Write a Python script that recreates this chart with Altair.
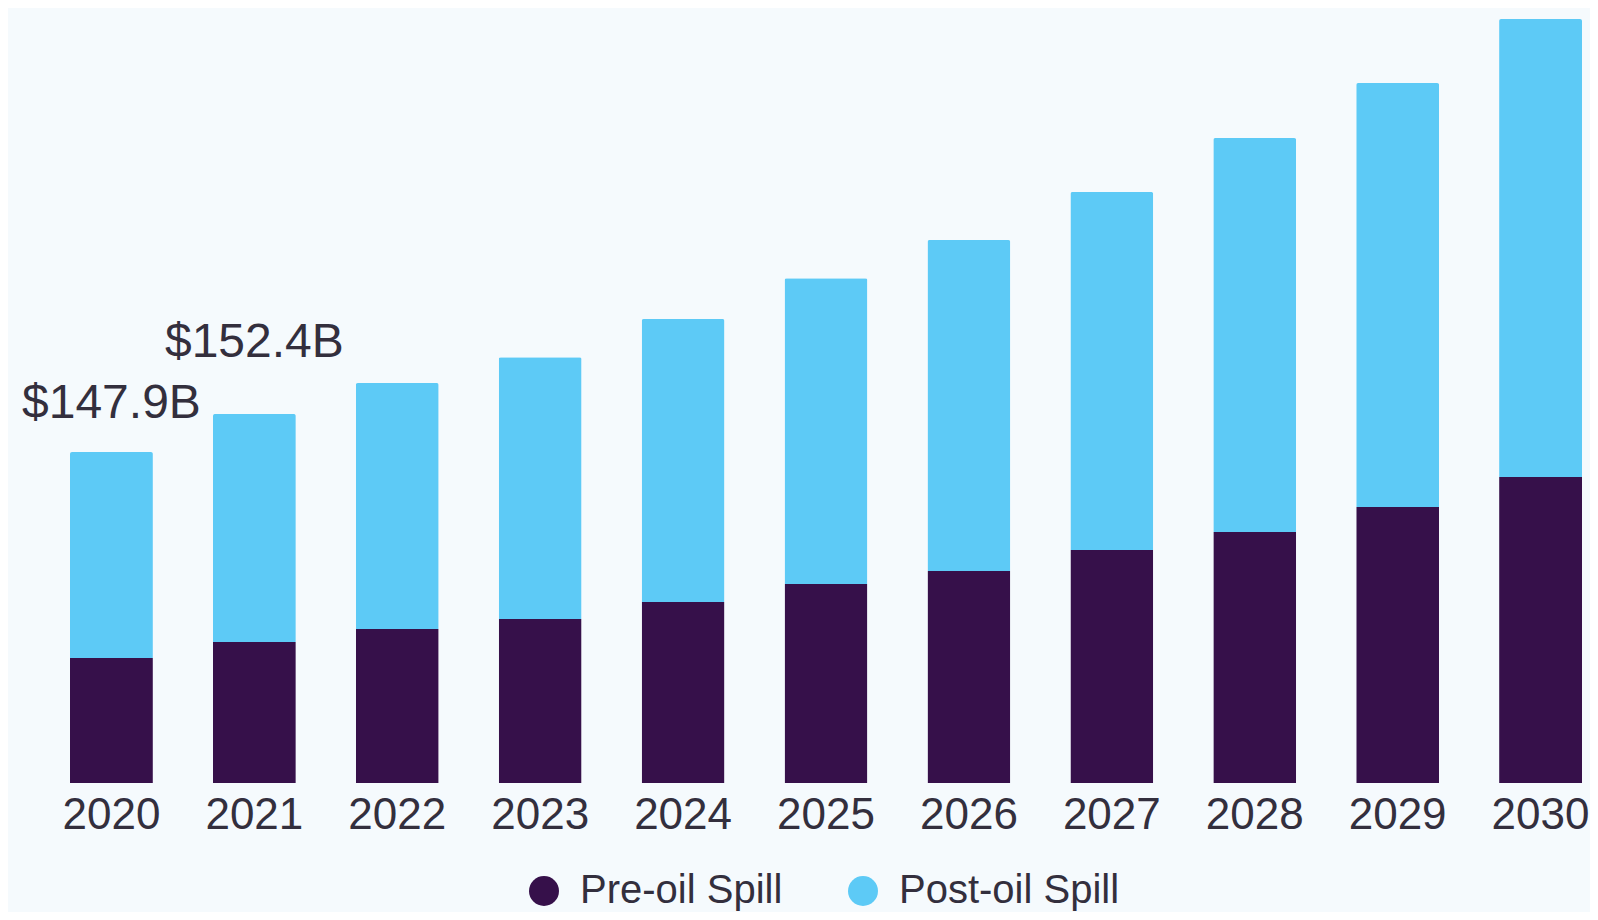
import altair as alt
import pandas as pd

# ---- data ----
years = ["2020", "2021", "2022", "2023", "2024", "2025", "2026", "2027", "2028", "2029", "2030"]
pre_oil = [55.9, 63.0, 68.8, 73.3, 80.9, 88.9, 94.7, 104.1, 112.2, 123.3, 136.7]
post_oil = [92.0, 101.9, 109.9, 117.0, 126.4, 136.7, 147.9, 160.0, 176.0, 189.5, 204.7]
series = ["Pre-oil Spill", "Post-oil Spill"]
series_colors = ["#36104A", "#5DCAF6"]
label_years = ["2020", "2021"]
label_texts = ["$147.9B", "$152.4B"]
label_dy = [-34, -57]

TEXT = "#332F3D"
FONT = "Liberation Sans"
BG = "#F5FAFD"

rows = []
for i, y in enumerate(years):
    rows.append({"year": y, "series": series[0], "value": pre_oil[i], "stack": 0})
    rows.append({"year": y, "series": series[1], "value": post_oil[i], "stack": 1})
df = pd.DataFrame(rows)

totals = {y: pre_oil[i] + post_oil[i] for i, y in enumerate(years)}
ymax = max(totals.values())

bars = alt.Chart(df).mark_bar(cornerRadiusTopLeft=2, cornerRadiusTopRight=2).encode(
    x=alt.X(
        "year:N",
        sort=years,
        title=None,
        scale=alt.Scale(paddingInner=0.42, paddingOuter=0),
        axis=alt.Axis(
            labelAngle=0, labelFontSize=44, labelFont=FONT, labelColor=TEXT,
            ticks=False, domain=False, grid=False, labelPadding=10,
        ),
    ),
    y=alt.Y("value:Q", stack="zero", axis=None,
            scale=alt.Scale(domain=[0, ymax], nice=False, zero=True)),
    color=alt.Color(
        "series:N",
        scale=alt.Scale(domain=series, range=series_colors),
        legend=alt.Legend(
            title=None, orient="none", legendX=454, legendY=852,
            direction="horizontal", symbolType="circle", symbolSize=900,
            symbolOpacity=1, symbolStrokeWidth=0,
            labelFontSize=40, labelFont=FONT, labelColor=TEXT, labelLimit=0,
            labelOffset=16, columnPadding=60, padding=0,
        ),
    ),
    order=alt.Order("stack:Q", sort="ascending"),
)

layers = [bars]
for yr, txt, dy in zip(label_years, label_texts, label_dy):
    ldf = pd.DataFrame({"year": [yr], "total": [totals[yr]], "label": [txt]})
    layers.append(
        alt.Chart(ldf).mark_text(
            dy=dy, fontSize=48, font=FONT, color=TEXT, align="center", baseline="alphabetic"
        ).encode(
            x=alt.X("year:N", sort=years),
            y=alt.Y("total:Q"),
            text="label:N",
        )
    )

chart = alt.layer(*layers).properties(
    width=1512,
    height=764,
    background=BG,
    padding={"left": 62, "top": 11, "right": 8, "bottom": 129},
    autosize=alt.AutoSizeParams(type="none"),
).configure_view(stroke=None)

chart.save("out.html", embed_options={"renderer": "svg", "actions": False})
